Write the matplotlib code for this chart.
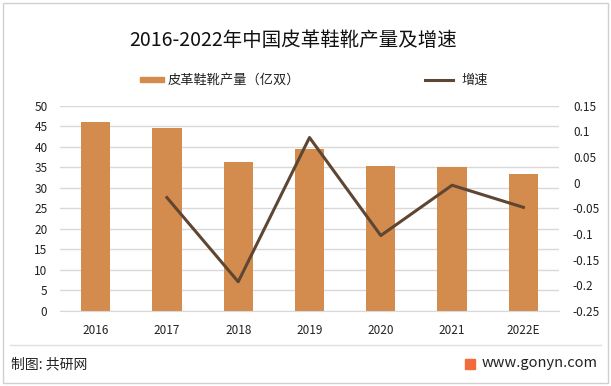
import numpy as np
import matplotlib
matplotlib.use('Agg')
import matplotlib.pyplot as plt
from matplotlib.patches import Rectangle
from matplotlib.lines import Line2D

plt.rcParams['font.family'] = ['Noto Sans CJK SC', 'DejaVu Sans']

# data
years = ['2016', '2017', '2018', '2019', '2020', '2021', '2022E']
output = [46.0, 44.6, 36.4, 39.5, 35.4, 35.1, 33.4]          # 亿双
growth = [np.nan, -0.029, -0.193, 0.088, -0.103, -0.005, -0.048]

bar_color = '#D48B4E'
line_color = '#5E4632'
grid_color = '#D9D9D9'

fig = plt.figure(figsize=(6.11, 3.86), dpi=100)

# outer frame and footer separator
fig.patches.append(Rectangle((3/611, 3/386), 605/611, 380/386, transform=fig.transFigure,
                             fill=False, edgecolor='#D0D0D0', lw=1))
fig.lines.append(Line2D([10/611, 601/611], [1 - 345/386, 1 - 345/386], transform=fig.transFigure,
                        color='#E0E0E0', lw=1))

ax = fig.add_axes([60/611, 1 - 311/386, 499/611, 205.3/386])
x = np.arange(len(years))
ax.bar(x, output, width=0.41, color=bar_color, zorder=2, label='皮革鞋靴产量（亿双）')
ax.set_ylim(0, 50)
ax.set_yticks(np.arange(0, 51, 5))
ax.set_xlim(-0.5, len(years) - 0.5)
ax.set_xticks(x)
ax.set_xticklabels(years)
ax.yaxis.grid(True, color=grid_color, lw=1, zorder=0)
for s in ['top', 'right', 'left']:
    ax.spines[s].set_visible(False)
ax.spines['bottom'].set_color(grid_color)
ax.tick_params(axis='both', length=0, labelsize=8.5, colors='#222222')
ax.tick_params(axis='x', pad=9)
ax.tick_params(axis='y', pad=9)

ax2 = ax.twinx()
ax2.plot(x, growth, color=line_color, lw=2.2, zorder=3, label='增速')
ax2.set_ylim(-0.25, 0.15)
ax2.set_yticks([-0.25, -0.2, -0.15, -0.1, -0.05, 0, 0.05, 0.1, 0.15])
ax2.set_yticklabels(['-0.25', '-0.2', '-0.15', '-0.1', '-0.05', '0', '0.05', '0.1', '0.15'])
for s in ['top', 'right', 'left', 'bottom']:
    ax2.spines[s].set_visible(False)
ax2.tick_params(axis='y', length=0, labelsize=8.5, colors='#222222', pad=10)

fig.text(293/611, 1 - 41/386, '2016-2022年中国皮革鞋靴产量及增速', ha='center', va='center',
         fontsize=14, color='#111111')

# legend
fig.patches.append(Rectangle((140/611, 1 - 82/386), 24/611, 5/386, transform=fig.transFigure,
                             color=bar_color))
fig.text(168/611, 1 - 80/386, '皮革鞋靴产量（亿双）', ha='left', va='center', fontsize=9.5,
         color='#222222')
fig.lines.append(Line2D([425/611, 453/611], [1 - 80/386, 1 - 80/386], transform=fig.transFigure,
                        color=line_color, lw=2.2))
fig.text(461/611, 1 - 80/386, '增速', ha='left', va='center', fontsize=9.5, color='#222222')

# footer
fig.text(11/611, 1 - 364/386, '制图: 共研网', ha='left', va='center', fontsize=10, color='#222222')
fig.patches.append(Rectangle((465/611, 1 - 369/386), 10/611, 10/386, transform=fig.transFigure,
                             color='#F26B3A'))
fig.text(598/611, 1 - 363/386, 'www.gonyn.com', ha='right', va='center', fontsize=10.5,
         color='#222222')

fig.savefig('out.png', dpi=100)
